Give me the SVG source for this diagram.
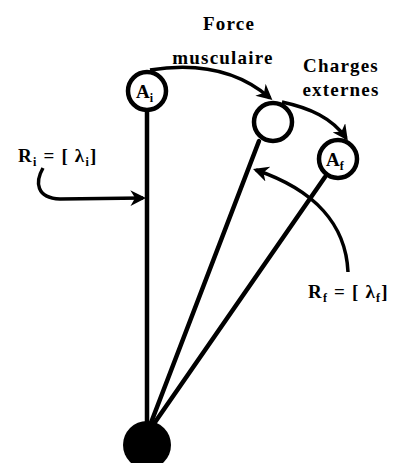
<svg xmlns="http://www.w3.org/2000/svg" width="398" height="463" viewBox="0 0 398 463">
<style>
.ring{fill:#fff;stroke:#000;stroke-width:4.5}
.bar{stroke:#000;stroke-width:4.5;stroke-linecap:round;fill:none}
.arr{stroke:#000;stroke-width:3.5;fill:none;marker-end:url(#ah)}
.t{font-family:"Liberation Serif",serif;font-weight:bold;font-size:19px;letter-spacing:1.2px;fill:#000}
.ci{font-family:"Liberation Serif",serif;font-weight:bold;font-size:19px;fill:#000}
.sub{font-size:12px}
</style>
<defs>
<marker id="ah" viewBox="0 0 10 10" refX="8" refY="5" markerWidth="4.5" markerHeight="4.5" orient="auto" markerUnits="strokeWidth">
<path d="M0,0 L10,5 L0,10 L3,5 Z" fill="#000"/>
</marker>
</defs>
<rect width="398" height="463" fill="#fff"/>
<g id="connectors">
<line class="bar" x1="147" y1="110" x2="147" y2="430"/>
<line class="bar" x1="149" y1="428" x2="259" y2="141"/>
<line class="bar" x1="151" y1="428" x2="325" y2="177"/>
<path class="arr" d="M150,70 C200,62 240,72 270,98"/>
<path class="arr" d="M282,102 C310,108 332,118 346,138"/>
<path class="arr" d="M43,168 C35,182 36,198 60,199 L143,198"/>
<path class="arr" d="M348,272 C346,225 315,190 256,170"/>
</g>
<g id="Ai">
<circle class="ring" cx="147" cy="91" r="19"/>
<text class="ci" x="136" y="98">A<tspan class="sub" dy="4">i</tspan></text>
</g>
<g id="mid">
<circle class="ring" cx="273" cy="122" r="19"/>
</g>
<g id="Af">
<circle class="ring" cx="338" cy="159" r="19"/>
<text class="ci" x="326" y="166">A<tspan class="sub" dy="4">f</tspan></text>
</g>
<g id="base">
<circle cx="147" cy="445" r="24" fill="#000"/>
</g>
<g id="labels">
<text class="t" x="229" y="30" text-anchor="middle">Force</text>
<text class="t" x="223" y="64" text-anchor="middle">musculaire</text>
<text class="t" x="341" y="72" text-anchor="middle">Charges</text>
<text class="t" x="341" y="96" text-anchor="middle">externes</text>
<text class="t" x="18" y="162">R<tspan class="sub" dy="4">i</tspan><tspan dy="-4"> = [ λ</tspan><tspan class="sub" dy="4">i</tspan><tspan dy="-4">]</tspan></text>
<text class="t" x="308" y="298">R<tspan class="sub" dy="4">f</tspan><tspan dy="-4"> = [ λ</tspan><tspan class="sub" dy="4">f</tspan><tspan dy="-4">]</tspan></text>
</g>
</svg>
